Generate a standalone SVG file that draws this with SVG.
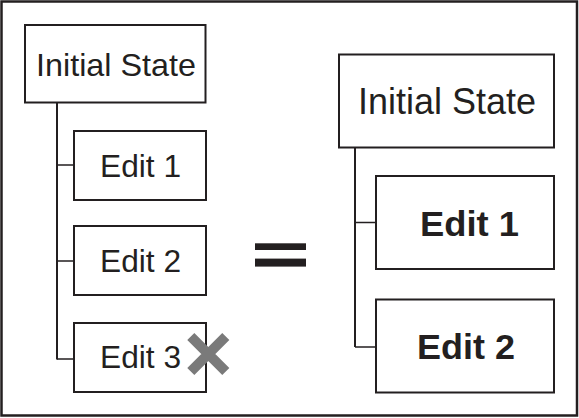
<svg xmlns="http://www.w3.org/2000/svg" width="579" height="418" viewBox="0 0 579 418">
<style>
.box{fill:#fff;stroke:#231f20;stroke-width:2}
.conn{fill:none;stroke:#231f20;stroke-width:2}
.tick{fill:none;stroke:#231f20;stroke-width:1.6}
.t{font-family:"Liberation Sans",Arial,sans-serif;fill:#231f20}
.b{font-family:"Liberation Sans",Arial,sans-serif;font-weight:bold;fill:#231f20}
</style>
<rect x="1.5" y="1.5" width="575.5" height="414" fill="#fff" stroke="#231f20" stroke-width="2.5"/>
<g id="connectors">
<path class="conn" d="M57,102 V359.5"/>
<path class="tick" d="M57,165 H74 M57,261 H74 M57,359 H74"/>
<path class="conn" d="M355,148 V347"/>
<path class="tick" d="M355,222.5 H376 M355,347 H376"/>
</g>
<g id="left-initial">
<rect class="box" x="25" y="25" width="180.5" height="77.5"/>
<text class="t" x="36" y="76" font-size="32" textLength="160" lengthAdjust="spacingAndGlyphs">Initial State</text>
</g>
<g id="left-edit1">
<rect class="box" x="74" y="131" width="132" height="69"/>
<text class="t" x="100" y="177" font-size="31" textLength="81" lengthAdjust="spacingAndGlyphs">Edit 1</text>
</g>
<g id="left-edit2">
<rect class="box" x="74" y="226" width="132" height="69"/>
<text class="t" x="100" y="272" font-size="31" textLength="81" lengthAdjust="spacingAndGlyphs">Edit 2</text>
</g>
<g id="left-edit3">
<rect class="box" x="74" y="323" width="132" height="69"/>
<text class="t" x="100" y="368" font-size="31" textLength="81" lengthAdjust="spacingAndGlyphs">Edit 3</text>
</g>
<g id="cross">
<path d="M190.8,336.5 L225.8,371.5 M225.8,336.5 L190.8,371.5" stroke="#7a7a7a" stroke-width="10" fill="none"/>
</g>
<g id="equals">
<rect x="255" y="243.3" width="51" height="6.7" fill="#231f20"/>
<rect x="255" y="258.6" width="51" height="8" fill="#231f20"/>
</g>
<g id="right-initial">
<rect class="box" x="339" y="54.5" width="215" height="93"/>
<text class="t" x="358" y="114" font-size="36" textLength="178" lengthAdjust="spacingAndGlyphs">Initial State</text>
</g>
<g id="right-edit1">
<rect class="box" x="376" y="176" width="178" height="93"/>
<text class="b" x="420" y="235.5" font-size="35" textLength="99" lengthAdjust="spacingAndGlyphs">Edit 1</text>
</g>
<g id="right-edit2">
<rect class="box" x="376" y="299.5" width="178" height="93"/>
<text class="b" x="417" y="359.3" font-size="35" textLength="98" lengthAdjust="spacingAndGlyphs">Edit 2</text>
</g>
</svg>
